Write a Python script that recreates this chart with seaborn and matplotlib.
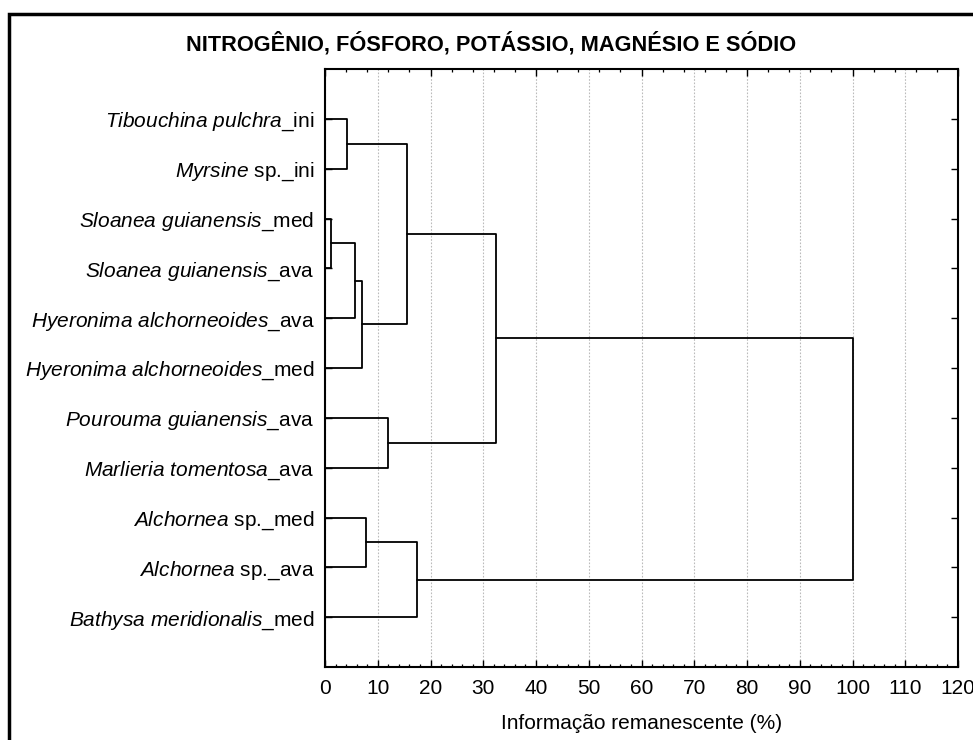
import matplotlib
matplotlib.use("Agg")
import matplotlib.pyplot as plt
from matplotlib.patches import Rectangle
from matplotlib.ticker import MultipleLocator, NullFormatter
import numpy as np
import pandas as pd
import seaborn as sns

# Leaves, top to bottom: italic taxon part and plain suffix
taxa = ["Tibouchina pulchra", "Myrsine", "Sloanea guianensis", "Sloanea guianensis",
        "Hyeronima alchorneoides", "Hyeronima alchorneoides", "Pourouma guianensis",
        "Marlieria tomentosa", "Alchornea", "Alchornea", "Bathysa meridionalis"]
suffixes = ["_ini", " sp._ini", "_med", "_ava", "_ava", "_med", "_ava", "_ava",
            " sp._med", " sp._ava", "_med"]

# Linkage: (cluster a, cluster b, remaining information %); new clusters numbered from 11
merge_a = [0, 2, 12, 13, 11, 6, 15, 8, 18, 17]
merge_b = [1, 3, 4, 5, 14, 7, 16, 9, 10, 19]
merge_height = [4.2, 1.2, 5.7, 7.1, 15.6, 11.9, 32.4, 7.8, 17.5, 100.0]

x_ticks = list(range(0, 121, 10))

# Build the elbow segments of the dendrogram
n = len(taxa)
pos = {i: (0.0, float(i + 1)) for i in range(n)}
rows = []
for k, (a, b, h) in enumerate(zip(merge_a, merge_b, merge_height)):
    xa, ya = pos[a]
    xb, yb = pos[b]
    for px, py in [(xa, ya), (h, ya), (h, yb), (xb, yb)]:
        rows.append({"link": k, "x": px, "y": py})
    pos[n + k] = (h, (ya + yb) / 2.0)
segments = pd.DataFrame(rows)

sns.set_theme(style="white")
plt.rcParams["font.family"] = ["Liberation Sans", "DejaVu Sans"]
plt.rcParams["mathtext.fontset"] = "custom"
plt.rcParams["mathtext.rm"] = "Liberation Sans"
plt.rcParams["mathtext.it"] = "Liberation Sans:italic"
plt.rcParams["text.color"] = "black"
plt.rcParams["axes.labelcolor"] = "black"

fig = plt.figure(figsize=(9.73, 7.40), dpi=100)
rect = [325 / 973, 1 - 667 / 740, (958 - 325) / 973, (667 - 69) / 740]
ax = fig.add_axes(rect)

ax.xaxis.grid(True, which="major", color="#bbbbbb", linestyle=(0, (1.5, 1.5)), linewidth=0.8)
ax.set_axisbelow(True)

sns.lineplot(data=segments, x="x", y="y", units="link", estimator=None, sort=False,
             color="black", linewidth=1.3, ax=ax, legend=False)

ax.set_xlim(0, 120)
ax.set_ylim(12, 0)
ax.set_xticks(x_ticks)
ax.xaxis.set_minor_locator(MultipleLocator(2))
ax.set_yticks(np.arange(1, n + 1))

labels = []
for t, s in zip(taxa, suffixes):
    it = t.replace(" ", r"\ ")
    labels.append(r"$\mathit{" + it + "}$" + s)
ax.set_yticklabels(labels)

ax.tick_params(axis="both", which="both", direction="in", colors="black",
               top=False, right=True, bottom=True, left=True, labelsize=15)
ax.tick_params(axis="x", pad=9)
ax.tick_params(axis="y", pad=7.5)
ax.tick_params(axis="both", which="major", length=5, width=1.0)
ax.tick_params(axis="x", which="minor", length=2.5, width=0.9)
ax.tick_params(axis="y", which="minor", left=False, right=False)

# Top edge carries its own coarser tick scale
top = ax.twiny()
top.set_xlim(ax.get_xlim())
top.xaxis.set_major_locator(MultipleLocator(20))
top.xaxis.set_minor_locator(MultipleLocator(4))
top.xaxis.set_major_formatter(NullFormatter())
top.tick_params(axis="x", which="both", direction="in", colors="black",
                top=True, bottom=False, labeltop=False)
top.tick_params(axis="x", which="major", length=5, width=1.0)
top.tick_params(axis="x", which="minor", length=2.5, width=0.9)
for sp in top.spines.values():
    sp.set_visible(False)

for sp in ax.spines.values():
    sp.set_color("black")
    sp.set_linewidth(1.5)

ax.set_xlabel("Informação remanescente (%)", fontsize=15, labelpad=11)
ax.set_ylabel("")

fig.text(0.505, 1 - 44 / 740, "NITROGÊNIO, FÓSFORO, POTÁSSIO, MAGNÉSIO E SÓDIO",
         ha="center", va="center", fontsize=15.7, fontweight="bold", color="black")

# Outer frame of the figure
fig.patches.append(Rectangle((9 / 973, -0.2), 1.3, 1.2 - 13.5 / 740,
                             transform=fig.transFigure, fill=False,
                             edgecolor="black", linewidth=2.5, clip_on=False))

fig.savefig("out.png", dpi=100)
